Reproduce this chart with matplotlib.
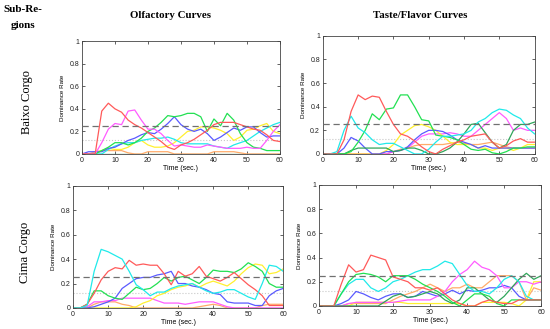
import matplotlib
matplotlib.use("Agg")
import matplotlib.pyplot as plt

# time grid (sec.)
T = [0, 2, 4, 6, 8, 10, 12, 14, 16, 18, 20, 22, 24, 26, 28, 30,
     32, 34, 36, 38, 40, 42, 44, 46, 48, 50, 52, 54, 56, 58, 60]

colors = {
    "red": "#ff5a5a", "magenta": "#ff5cff", "green": "#22e052",
    "dgreen": "#2fa55a", "blue": "#5a5aff", "cyan": "#20eaea",
    "yellow": "#fff030", "orange": "#ffab6a",
}

# Baixo Corgo - olfactory
bc_olf_red = [0, 0, 0, 0.38, 0.45, 0.40, 0.37, 0.30, 0.26, 0.23, 0.19, 0.15, 0.11, 0.06, 0.04, 0.08,
              0.10, 0.13, 0.17, 0.21, 0.26, 0.28, 0.28, 0.28, 0.26, 0.24, 0.22, 0.21, 0.17, 0.12, 0.11]
bc_olf_magenta = [0, 0, 0, 0.10, 0.22, 0.27, 0.26, 0.38, 0.39, 0.30, 0.22, 0.22, 0.18, 0.12, 0.07, 0.08,
                  0.07, 0.06, 0.06, 0.08, 0.07, 0.06, 0.05, 0.05, 0.05, 0.06, 0.05, 0.05, 0.12, 0.20, 0.26]
bc_olf_green = [0, 0, 0, 0.03, 0.06, 0.10, 0.10, 0.08, 0.10, 0.14, 0.20, 0.23, 0.28, 0.34, 0.33, 0.34,
                0.36, 0.36, 0.33, 0.20, 0.31, 0.25, 0.36, 0.30, 0.18, 0.10, 0.06, 0.05, 0.03, 0.03, 0.03]
bc_olf_blue = [0, 0.02, 0.02, 0.02, 0.05, 0.06, 0.09, 0.12, 0.14, 0.17, 0.19, 0.18, 0.22, 0.27, 0.33, 0.26,
               0.22, 0.20, 0.22, 0.18, 0.12, 0.15, 0.19, 0.23, 0.21, 0.24, 0.24, 0.19, 0.15, 0.16, 0.16]
bc_olf_cyan = [0, 0, 0, 0, 0.04, 0.07, 0.09, 0.10, 0.10, 0.12, 0.13, 0.14, 0.14, 0.15, 0.13, 0.10,
               0.09, 0.09, 0.09, 0.09, 0.07, 0.06, 0.05, 0.08, 0.10, 0.12, 0.16, 0.20, 0.23, 0.26, 0.28]
bc_olf_yellow = [0, 0, 0, 0.03, 0.05, 0.04, 0.04, 0.06, 0.10, 0.12, 0.08, 0.06, 0.06, 0.07, 0.10, 0.15,
                 0.20, 0.21, 0.24, 0.24, 0.23, 0.21, 0.18, 0.12, 0.15, 0.21, 0.22, 0.25, 0.27, 0.20, 0.18]
bc_olf_orange = [0, 0, 0.02, 0.03, 0.03, 0.03, 0.03, 0.01, 0, 0, 0.02, 0.02, 0.02, 0.02, 0, 0,
                 0, 0, 0, 0, 0.02, 0.02, 0.02, 0.02, 0.01, 0, 0, 0, 0, 0, 0]
bc_olf_dgreen = [0] * 31

# Baixo Corgo - taste/flavor
bc_tst_red = [0, 0, 0, 0.12, 0.36, 0.50, 0.46, 0.49, 0.48, 0.36, 0.25, 0.17, 0.15, 0.11, 0.06, 0.02,
              0, 0.04, 0.07, 0.10, 0.12, 0.15, 0.16, 0.17, 0.10, 0.05, 0.07, 0.11, 0.13, 0.10, 0.10]
bc_tst_cyan = [0, 0, 0.02, 0.20, 0.32, 0.22, 0.18, 0.12, 0.08, 0.09, 0.09, 0.06, 0.03, 0, 0, 0.04,
               0.10, 0.15, 0.15, 0.16, 0.17, 0.20, 0.27, 0.30, 0.35, 0.38, 0.37, 0.33, 0.30, 0.22, 0.17]
bc_tst_green = [0, 0, 0, 0, 0.02, 0.10, 0.20, 0.34, 0.29, 0.38, 0.39, 0.50, 0.50, 0.40, 0.29, 0.28,
                0.16, 0.15, 0.14, 0.12, 0.08, 0.04, 0.03, 0.04, 0.01, 0, 0.02, 0.05, 0.05, 0.06, 0.06]
bc_tst_dgreen = [0, 0, 0, 0, 0.03, 0.05, 0.05, 0.05, 0.05, 0.05, 0.02, 0.03, 0.05, 0.05, 0.03, 0,
                 0, 0.02, 0.05, 0.10, 0.17, 0.25, 0.26, 0.18, 0.10, 0.05, 0.08, 0.20, 0.25, 0.25, 0.27]
bc_tst_blue = [0, 0, 0, 0.05, 0.14, 0.11, 0.05, 0, 0, 0.02, 0.02, 0.03, 0.06, 0.12, 0.17, 0.20,
               0.20, 0.19, 0.16, 0.12, 0.10, 0.08, 0.05, 0.07, 0.05, 0.05, 0.05, 0.05, 0.05, 0.05, 0.05]
bc_tst_yellow = [0, 0, 0, 0, 0, 0, 0, 0, 0, 0.03, 0.08, 0.16, 0.20, 0.24, 0.25, 0.23,
                 0.20, 0.15, 0.10, 0.08, 0.08, 0.08, 0.05, 0.05, 0.03, 0.05, 0.05, 0.03, 0.05, 0.08, 0.08]
bc_tst_magenta = [0, 0, 0, 0, 0, 0, 0, 0, 0, 0, 0.02, 0.03, 0.05, 0.10, 0.15, 0.17,
                  0.17, 0.17, 0.18, 0.17, 0.15, 0.15, 0.20, 0.25, 0.30, 0.35, 0.30, 0.20, 0.22, 0.20, 0.20]
bc_tst_orange = [0, 0, 0, 0, 0, 0, 0, 0, 0, 0, 0.02, 0.04, 0.05, 0.07, 0.08, 0.08,
                 0.08, 0.08, 0.09, 0.10, 0.09, 0.08, 0.08, 0.09, 0.10, 0.08, 0.06, 0.05, 0.05, 0.05, 0.05]

# Cima Corgo - olfactory
cc_olf_cyan = [0, 0, 0.02, 0.30, 0.48, 0.46, 0.43, 0.40, 0.30, 0.19, 0.15, 0.10, 0.13, 0.13, 0.16, 0.18,
               0.19, 0.20, 0.17, 0.14, 0.12, 0.13, 0.15, 0.15, 0.12, 0.09, 0.07, 0.20, 0.35, 0.34, 0.30]
cc_olf_red = [0, 0, 0.03, 0.12, 0.23, 0.30, 0.33, 0.32, 0.39, 0.35, 0.36, 0.35, 0.35, 0.28, 0.19, 0.30,
              0.26, 0.28, 0.34, 0.26, 0.24, 0.22, 0.25, 0.29, 0.24, 0.19, 0.15, 0.10, 0.02, 0.02, 0.02]
cc_olf_green = [0, 0, 0.03, 0.14, 0.14, 0.10, 0.08, 0.07, 0.12, 0.17, 0.15, 0.16, 0.20, 0.25, 0.22, 0.25,
                0.26, 0.23, 0.20, 0.25, 0.31, 0.30, 0.30, 0.29, 0.32, 0.37, 0.34, 0.30, 0.20, 0.17, 0.17]
cc_olf_blue = [0, 0, 0, 0.01, 0.03, 0.05, 0.08, 0.16, 0.20, 0.24, 0.25, 0.25, 0.27, 0.28, 0.30, 0.20,
               0.20, 0.18, 0.17, 0.15, 0.12, 0.11, 0.05, 0.04, 0.04, 0.04, 0.02, 0.02, 0.10, 0.14, 0.16]
cc_olf_yellow = [0, 0, 0, 0, 0, 0, 0, 0, 0, 0.01, 0.04, 0.06, 0.10, 0.12, 0.15, 0.17,
                 0.18, 0.20, 0.17, 0.20, 0.22, 0.20, 0.18, 0.22, 0.28, 0.33, 0.36, 0.35, 0.28, 0.29, 0.32]
cc_olf_magenta = [0, 0, 0.01, 0.05, 0.05, 0.06, 0.06, 0.08, 0.08, 0.08, 0.08, 0.08, 0.06, 0.04, 0.04, 0.04,
                  0.03, 0.04, 0.05, 0.05, 0.05, 0.03, 0.01, 0, 0, 0, 0, 0, 0, 0, 0]
cc_olf_orange = [0, 0, 0, 0.03, 0.05, 0.05, 0.05, 0.03, 0.02, 0, 0, 0, 0, 0, 0, 0,
                 0, 0, 0.01, 0.02, 0.03, 0.02, 0, 0, 0, 0, 0, 0.02, 0.03, 0.03, 0.03]
cc_olf_dgreen = [0] * 31

# Cima Corgo - taste/flavor
cc_tst_red = [0, 0, 0, 0.18, 0.34, 0.28, 0.30, 0.42, 0.40, 0.38, 0.24, 0.22, 0.20, 0.15, 0.15, 0.13,
              0.15, 0.10, 0.05, 0.02, 0, 0, 0.03, 0.05, 0.03, 0.02, 0.02, 0.05, 0.05, 0.05, 0.05]
cc_tst_green = [0, 0, 0, 0.10, 0.20, 0.26, 0.27, 0.26, 0.24, 0.20, 0.25, 0.25, 0.25, 0.22, 0.18, 0.15,
                0.12, 0.08, 0.03, 0, 0.05, 0.10, 0.10, 0.08, 0.02, 0, 0.05, 0.05, 0.05, 0.05, 0.05]
cc_tst_dgreen = [0, 0, 0, 0, 0, 0, 0, 0, 0, 0.04, 0.08, 0.10, 0.07, 0.08, 0.10, 0.12,
                 0.10, 0.05, 0.02, 0.05, 0.15, 0.15, 0.10, 0.05, 0.03, 0.08, 0.15, 0.22, 0.27, 0.22, 0.25]
cc_tst_cyan = [0, 0, 0, 0.10, 0.18, 0.22, 0.22, 0.15, 0.12, 0.15, 0.20, 0.22, 0.25, 0.28, 0.30, 0.30,
               0.33, 0.37, 0.35, 0.26, 0.17, 0.12, 0.12, 0.10, 0.15, 0.22, 0.25, 0.20, 0.08, 0.05, 0.05]
cc_tst_magenta = [0, 0, 0, 0, 0.02, 0.03, 0.03, 0.03, 0.03, 0.03, 0.03, 0.04, 0.05, 0.05, 0.05, 0.05,
                  0.08, 0.12, 0.20, 0.26, 0.30, 0.37, 0.32, 0.30, 0.25, 0.15, 0.15, 0.20, 0.20, 0.18, 0.20]
cc_tst_blue = [0, 0, 0, 0.02, 0.05, 0.12, 0.10, 0.07, 0.05, 0.08, 0.10, 0.10, 0.07, 0.08, 0.12, 0.10,
               0.08, 0.10, 0.13, 0.10, 0.13, 0.12, 0.13, 0.15, 0.15, 0.17, 0.15, 0.08, 0.05, 0.05, 0.05]
cc_tst_yellow = [0, 0, 0, 0, 0, 0.03, 0.03, 0.03, 0.03, 0.03, 0.03, 0.03, 0.02, 0.02, 0.02, 0.02,
                 0.02, 0.02, 0.02, 0.02, 0, 0, 0.03, 0.03, 0.03, 0.03, 0.02, 0, 0.05, 0.20, 0.20]
cc_tst_orange = [0, 0, 0, 0, 0.02, 0.02, 0.02, 0.02, 0.02, 0.02, 0.05, 0.08, 0.10, 0.12, 0.15, 0.18,
                 0.15, 0.12, 0.15, 0.15, 0.18, 0.15, 0.15, 0.20, 0.25, 0.25, 0.25, 0.20, 0.05, 0.15, 0.13]

chance_level = 0.125
significance_level = 0.25

panels = [
    # (curves, [left, bottom, width, height])
    ({"dgreen": bc_olf_dgreen, "orange": bc_olf_orange, "yellow": bc_olf_yellow, "cyan": bc_olf_cyan,
      "blue": bc_olf_blue, "green": bc_olf_green, "magenta": bc_olf_magenta, "red": bc_olf_red},
     [0.149, 0.532, 0.360, 0.343]),
    ({"orange": bc_tst_orange, "magenta": bc_tst_magenta, "yellow": bc_tst_yellow, "blue": bc_tst_blue,
      "dgreen": bc_tst_dgreen, "green": bc_tst_green, "cyan": bc_tst_cyan, "red": bc_tst_red},
     [0.587, 0.532, 0.385, 0.359]),
    ({"dgreen": cc_olf_dgreen, "orange": cc_olf_orange, "magenta": cc_olf_magenta, "yellow": cc_olf_yellow,
      "blue": cc_olf_blue, "green": cc_olf_green, "red": cc_olf_red, "cyan": cc_olf_cyan},
     [0.133, 0.064, 0.382, 0.371]),
    ({"orange": cc_tst_orange, "yellow": cc_tst_yellow, "blue": cc_tst_blue, "magenta": cc_tst_magenta,
      "dgreen": cc_tst_dgreen, "cyan": cc_tst_cyan, "green": cc_tst_green, "red": cc_tst_red},
     [0.580, 0.070, 0.404, 0.368]),
]

fig = plt.figure(figsize=(5.5, 3.29), dpi=100)
fig.patch.set_facecolor("white")

for curves, rect in panels:
    ax = fig.add_axes(rect)
    ax.axhline(chance_level, color="#c8c8c8", lw=0.8, ls=":", zorder=1)
    for name, vals in curves.items():
        ax.plot(T, vals, color=colors[name], lw=0.9, zorder=2)
    ax.axhline(significance_level, color="#707070", lw=0.9, ls=(0, (5, 3)), zorder=3)
    ax.set_xlim(0, 60)
    ax.set_ylim(0, 1)
    ax.set_xticks([0, 10, 20, 30, 40, 50, 60])
    ax.set_yticks([0, 0.2, 0.4, 0.6, 0.8, 1])
    ax.set_yticklabels(["0", "0.2", "0.4", "0.6", "0.8", "1"])
    ax.tick_params(direction="in", length=2, width=0.5, top=True, right=True, pad=2,
                   colors="#222222", labelsize=5)
    for lab in ax.get_xticklabels() + ax.get_yticklabels():
        lab.set_family("Liberation Sans")
    for sp in ax.spines.values():
        sp.set_linewidth(0.6)
        sp.set_color("#444444")
    ax.set_ylabel("Dominance Rate", fontdict={"family": "Liberation Sans", "size": 4.5}, labelpad=3)
    ax.set_xlabel("Time (sec.)", fontdict={"family": "Liberation Sans", "size": 5}, labelpad=1)

serif = "Liberation Serif"
fig.text(23 / 550, 1 - 10 / 329, "Sub-Re-", ha="center", va="center", family=serif,
         weight="bold", size=8)
fig.text(23 / 550, 1 - 25 / 329, "gions", ha="center", va="center", family=serif,
         weight="bold", size=8)
fig.text(170 / 550, 1 - 16 / 329, "Olfactory Curves", ha="center", va="center", family=serif,
         weight="bold", size=7.8)
fig.text(420 / 550, 1 - 16 / 329, "Taste/Flavor Curves", ha="center", va="center", family=serif,
         weight="bold", size=7.8)
fig.text(27 / 550, 1 - 102 / 329, "Baixo Corgo", ha="center", va="center", rotation=90,
         family=serif, size=9)
fig.text(25 / 550, 1 - 252 / 329, "Cima Corgo", ha="center", va="center", rotation=90,
         family=serif, size=9)

fig.savefig("out.png", dpi=100)
